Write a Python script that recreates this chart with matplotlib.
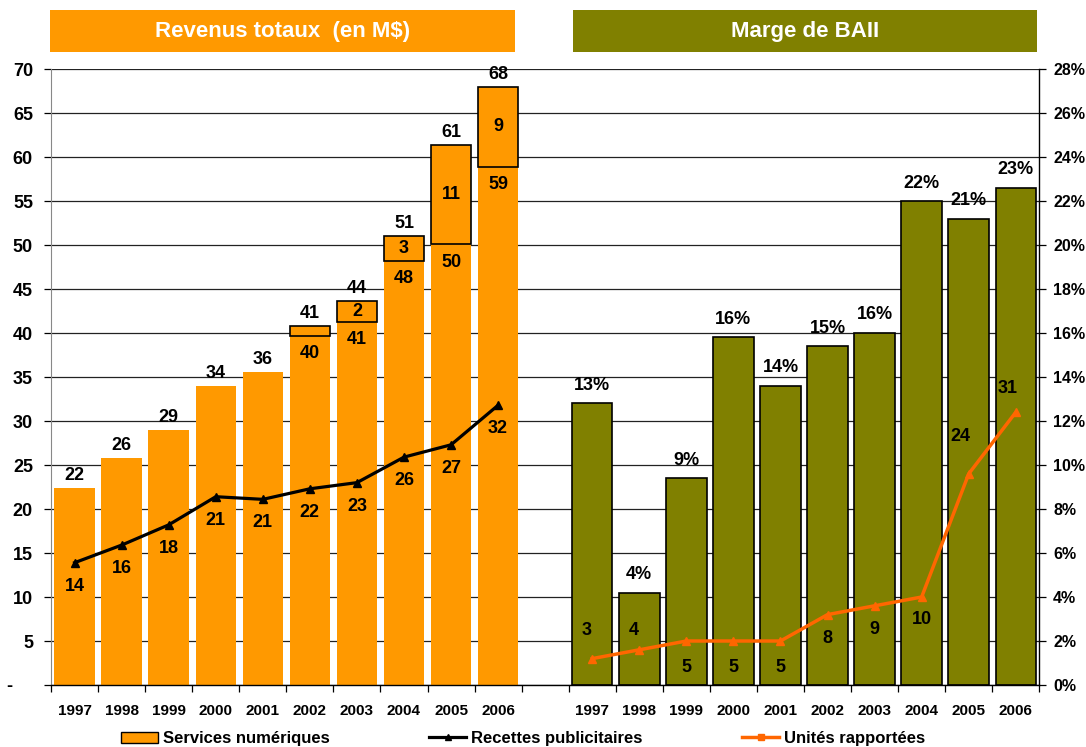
import matplotlib
matplotlib.use("Agg")
import matplotlib.pyplot as plt
import numpy as np
from matplotlib.patches import Rectangle, Patch
from matplotlib.lines import Line2D
from matplotlib.ticker import FuncFormatter, MultipleLocator

plt.rcParams["font.family"] = ["Liberation Sans", "DejaVu Sans"]
plt.rcParams["font.weight"] = "bold"

ORANGE = "#FF9900"; OLIVE = "#808000"; ORG_LINE = "#FF6600"
LBL = 13

# --- data ---
years = ["1997", "1998", "1999", "2000", "2001", "2002", "2003", "2004", "2005", "2006"]
services = [22.4, 25.8, 29.0, 34.0, 35.6, 39.7, 41.3, 48.2, 50.1, 58.9]
extra = [0, 0, 0, 0, 0, 1.1, 2.3, 2.8, 11.3, 9.1]
recettes = [13.9, 15.9, 18.2, 21.4, 21.1, 22.3, 23.0, 25.9, 27.3, 31.8]
marge = [12.8, 4.2, 9.4, 15.8, 13.6, 15.4, 16.0, 22.0, 21.2, 22.6]
unites = [3, 4, 5, 5, 5, 8, 9, 10, 24, 31]

xl = np.arange(len(years))
xr = np.arange(len(years)) + len(years) + 1

fig = plt.figure(figsize=(10.86, 7.47), dpi=100)
ax = fig.add_axes([0.047, 0.083, 0.91, 0.8245])
ax2 = ax.twinx()
ax.set_zorder(2); ax2.set_zorder(1); ax.patch.set_visible(False)

ax.set_xlim(-0.5, xr[-1] + 0.5)
ax.set_ylim(0, 70)
ax2.set_ylim(0, 28)

# gridlines on the back axes
ax2.set_axisbelow(True)
ax2.yaxis.grid(True, color="#222222", lw=0.9)
ax2.yaxis.set_major_locator(MultipleLocator(2))
ax2.yaxis.set_major_formatter(FuncFormatter(lambda v, p: f"{v:.0f}%"))

# right panel: marge bars
mb = ax2.bar(xr, marge, width=0.86, color=OLIVE, edgecolor="black", lw=1.2, zorder=2)
for b, v in zip(mb, marge):
    ax2.annotate(f"{v:.0f}%", (b.get_x() + b.get_width() / 2, v), xytext=(0, 13),
                 textcoords="offset points", ha="center", va="center", fontsize=LBL, fontweight="bold")

# left panel: revenue bars
sb = ax.bar(xl, services, width=0.86, color=ORANGE, lw=0, zorder=2)
tops = np.array(services) + np.array(extra)
for i, (b, v) in enumerate(zip(sb, services)):
    cx = b.get_x() + b.get_width() / 2
    if extra[i] > 0:
        ax.bar(xl[i], extra[i], bottom=v, width=0.86, color=ORANGE, edgecolor="black", lw=1.2, zorder=3)
        ax.annotate(f"{v:.0f}", (cx, v), xytext=(0, -13), textcoords="offset points",
                    ha="center", va="center", fontsize=LBL, fontweight="bold", zorder=6)
        if extra[i] >= 2:
            ax.text(cx, v + extra[i] / 2, f"{extra[i]:.0f}", ha="center", va="center",
                    fontsize=LBL, fontweight="bold", zorder=6)
    ax.annotate(f"{tops[i]:.0f}", (cx, tops[i]), xytext=(0, 9), textcoords="offset points",
                ha="center", va="center", fontsize=LBL, fontweight="bold")

ax.plot(xl, recettes, color="black", lw=2.3, marker="^", ms=6, zorder=5)
for x, v in zip(xl, recettes):
    ax.annotate(f"{v:.0f}", (x, v), xytext=(0, -17), textcoords="offset points",
                ha="center", va="center", fontsize=LBL, fontweight="bold", zorder=6)

ax.plot(xr, unites, color=ORG_LINE, lw=2.5, marker="^", ms=6, zorder=5)
u_off = [(-4, 20), (-4, 14), (0, -19), (0, -19), (0, -19), (0, -17), (0, -17), (0, -16), (-6, 27), (-6, 17)]
for x, v, o in zip(xr, unites, u_off):
    ax.annotate(f"{v}", (x, v), xytext=o, textcoords="offset points",
                ha="center", va="center", fontsize=LBL, fontweight="bold", zorder=6)

# axes styling
ax.yaxis.set_major_locator(MultipleLocator(5))
ax.yaxis.set_major_formatter(FuncFormatter(lambda v, p: "-    " if v == 0 else f"{v:.0f}"))
ax.tick_params(axis="y", labelsize=13, length=5, pad=8, width=0.9)
ax2.tick_params(axis="y", labelsize=11.5, length=5, pad=5, width=0.9)

ax.set_xticks(np.concatenate([xl, xr]))
ax.set_xticklabels(years + years)
ax.set_xticks(np.arange(-0.5, xr[-1] + 1, 1), minor=True)
ax.tick_params(axis="x", which="major", length=0, labelsize=11, pad=14)
ax.tick_params(axis="x", which="minor", length=5, width=0.9)

for s in ["top", "right"]:
    ax.spines[s].set_visible(False)
for s in ["top", "left", "bottom"]:
    ax2.spines[s].set_visible(False)
ax.spines["left"].set_color("#888888")
ax.spines["bottom"].set_linewidth(1.0)
ax2.spines["right"].set_linewidth(1.0)

# title boxes
for x0, w, col, label in [(0.046, 0.428, ORANGE, "Revenus totaux  (en M$)"),
                          (0.5276, 0.4273, OLIVE, "Marge de BAII")]:
    fig.patches.append(Rectangle((x0, 0.930), w, 0.0562, transform=fig.transFigure,
                                 facecolor=col, edgecolor="none"))
    fig.text(x0 + w / 2, 0.930 + 0.0562 / 2, label, ha="center", va="center",
             color="white", fontsize=16, fontweight="bold")

handles = [Patch(facecolor=ORANGE, edgecolor="black", lw=1.0),
           Line2D([], [], color="black", lw=2.3, marker="^", ms=5),
           Line2D([], [], color=ORG_LINE, lw=2.5, marker="s", ms=4)]
fig.legend(handles, ["Services numériques", "Recettes publicitaires", "Unités rapportées"],
           loc="center", bbox_to_anchor=(0.4816, 0.011), ncol=3, frameon=False,
           fontsize=12, handlelength=2.2, handletextpad=0.3, columnspacing=6.0)

fig.savefig("out.png", dpi=100)
